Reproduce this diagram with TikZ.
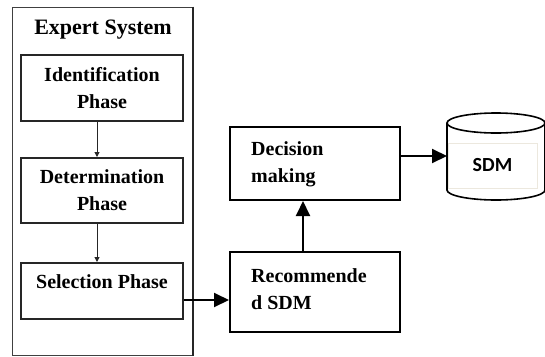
\documentclass[tikz,border=0pt]{standalone}
\usepackage{fontspec}
\setmainfont{Liberation Serif}
\newfontfamily\calib{Carlito}
\usetikzlibrary{arrows.meta}
\begin{document}
\begin{tikzpicture}[x=1pt,y=-1pt,
  phase/.style={draw=black!85,line width=2pt,inner sep=0pt,minimum width=162pt,align=center,
    font=\bfseries\fontsize{20}{27}\selectfont},
  sdmbox/.style={draw=black,line width=2pt,inner sep=0pt,minimum width=170pt},
  txt/.style={align=left,inner sep=0pt,anchor=west,font=\bfseries\fontsize{20}{27}\selectfont},
  thinarrow/.style={draw=black!85,line width=1pt,-{Triangle[length=5pt,width=5pt]}},
  bigarrow/.style={draw=black,line width=2pt,-{Triangle[length=15pt,width=14pt]}}]
\useasboundingbox (0,0) rectangle (545,356);
% expert system container
\node[draw=black!75,line width=1pt,minimum width=180pt,minimum height=348pt,inner sep=0pt] (es) at (102,181) {};
\draw[black!85,line width=2pt] (es.north east) -- (es.south east);
\node[font=\bfseries\fontsize{22}{26}\selectfont,inner sep=0pt] (title) at (103,29.5) {Expert System};
\node[phase,minimum height=66pt] (id) at (102,88) {Identification\\Phase};
\node[phase,minimum height=65pt] (det) at (102,190.5) {Determination\\Phase};
\node[phase,minimum height=56pt] (sel) at (102,291) {};
\node[inner sep=0pt,font=\bfseries\fontsize{20}{27}\selectfont] (seltxt) at (102,282) {Selection Phase};
\draw[thinarrow] ([xshift=-5pt]id.south) -- ([xshift=-5pt]det.north);
\draw[thinarrow] ([xshift=-5pt]det.south) -- ([xshift=-5pt]sel.north);
% right part
\node[sdmbox,minimum height=73pt] (dec) at (315,163.5) {};
\node[txt] (dectxt) at (251,164.5) {Decision\\making};
\node[sdmbox,minimum height=80pt] (rec) at (315,292) {};
\node[txt] (rectxt) at (251,289.5) {Recommende\\d SDM};
% database cylinder
\draw[black,line width=1.6pt] (447,123) -- (447,190) arc[start angle=180,end angle=360,x radius=49,y radius=-10] -- (545,123);
\draw[black,line width=1.6pt] (496,123) ellipse [x radius=49,y radius=10];
\node[draw={rgb,255:red,236;green,232;blue,222},line width=1pt,fill=white,minimum width=89pt,minimum height=45pt,inner sep=0pt,
  font=\calib\bfseries\fontsize{20}{24}\selectfont] (sdm) at (492.5,165.5) {SDM};
\coordinate (db) at (447,156);
\draw[bigarrow] ([yshift=-9pt]sel.east) -- ([yshift=-9pt]sel.east -| rec.west);
\draw[bigarrow] ([xshift=-12pt]rec.north) -- ([xshift=-12pt]dec.south);
\draw[bigarrow] (dec.east |- db) -- (db);
\end{tikzpicture}
\end{document}
